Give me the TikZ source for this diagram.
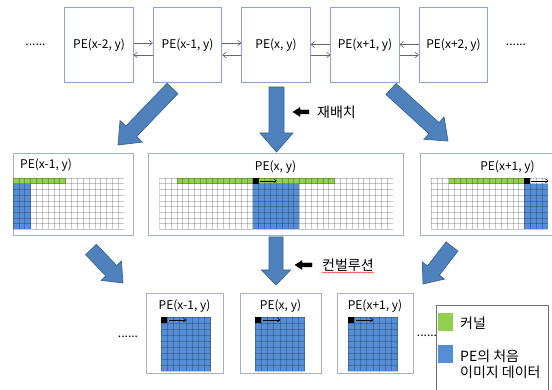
\documentclass[tikz,border=0pt]{standalone}
\usepackage{fontspec}
\setmainfont{Noto Sans CJK KR}
\usetikzlibrary{calc,arrows.meta,shadows,decorations.pathmorphing}

\definecolor{kgreen}{HTML}{92D050}
\definecolor{kblue}{HTML}{558ED5}
\definecolor{arrowblue}{HTML}{4F81BD}
\definecolor{arrowedge}{HTML}{3A6595}
\definecolor{topedge}{HTML}{8EA4C8}
\definecolor{boxedge}{HTML}{A7B0BE}

\tikzset{
  pebox/.style={draw=topedge, line width=0.8pt, minimum width=68.5pt,
    minimum height=75pt, inner sep=0pt, font=\fontsize{12}{14}\selectfont},
  link/.style={draw=black!60, line width=0.6pt,
    -{Straight Barb[length=3.5pt,width=6pt]}},
  layerbox/.style={draw=boxedge, line width=0.8pt, fill=white, inner sep=0pt,
    drop shadow={shadow xshift=1pt, shadow yshift=-1pt, opacity=0.3}},
  boxtitle/.style={inner sep=0pt, font=\fontsize{12}{14}\selectfont},
  gridline/.style={draw=black, draw opacity=0.22, line width=0.5pt},
  bigarrow/.style={fill=arrowblue, draw=arrowedge, line width=0.7pt, line join=miter},
  tagarrow/.style={fill=black, draw=black, line width=0.3pt},
  tag/.style={inner sep=0pt, anchor=west, font=\fontsize{14}{16}\selectfont},
  dots/.style={inner sep=0pt, font=\fontsize{12}{14}\selectfont},
  scanarrow/.style={draw=black, line width=0.5pt, -{Straight Barb[length=2.5pt,width=4pt]}},
  swatch/.style={inner sep=0pt, minimum width=15pt, minimum height=18pt},
}

% block arrow: tail, tip, half shaft width, half head width, head length, style
\newcommand\blockarrow[6]{%
  \path ($(#2)!#5!(#1)$) coordinate (ba-base);
  \draw[#6] ($(#1)!#3!90:(#2)$) -- ($(ba-base)!#3!90:(#2)$)
    -- ($(ba-base)!#4!90:(#2)$) -- (#2) -- ($(ba-base)!#4!-90:(#2)$)
    -- ($(ba-base)!#3!-90:(#2)$) -- ($(#1)!#3!-90:(#2)$) -- cycle;}

% wide grid of the rearranged layer: x0, columns, pixel column, kernel from, kernel to
\def\cw{5.84}
\def\ch{5.7}
\newcommand\layergrid[5]{%
  \begin{scope}
    \clip (#1,178) rectangle ({#1+#2*\cw},{178+9*\ch});
    \fill[kgreen] ({#1+#4*\cw},178) rectangle ({#1+(#5+1)*\cw},{178+\ch});
    \fill[kblue] ({#1+#3*\cw},{178+\ch}) rectangle ({#1+(#3+8)*\cw},{178+9*\ch});
    \foreach \i in {0,...,#2} \draw[gridline] ({#1+\i*\cw},178) -- ++(0,{9*\ch});
    \foreach \j in {0,...,9} \draw[gridline] (#1,{178+\j*\ch}) -- ++({#2*\cw},0);
    \fill[black] ({#1+#3*\cw},178) rectangle ++(\cw,\ch);
    \draw[scanarrow] ({#1+(#3+1)*\cw+1},{178+\ch/2}) -- ++(17,0);
  \end{scope}}

% 8 x 9 image tile of one processing element: x0
\def\bw{6.2}
\def\bh{6}
\newcommand\imagegrid[1]{%
  \fill[kblue] (#1,317) rectangle ({#1+8*\bw},{317+9*\bh});
  \foreach \i in {0,...,8} \draw[gridline] ({#1+\i*\bw},317) -- ++(0,{9*\bh});
  \foreach \j in {0,...,9} \draw[gridline] (#1,{317+\j*\bh}) -- ++({8*\bw},0);
  \fill[black] (#1,317) rectangle ++(\bw,\bh);
  \draw[scanarrow] ({#1+\bw+2},320) -- ++(17,0);}

\begin{document}
\begin{tikzpicture}[x=1pt,y=-1pt]
\useasboundingbox[fill=white] (0,0) rectangle (552,390);

% ---- processing elements in a row ----
\node[dots] (top-dl) at (35.5,45) {......};
\node[pebox] (pe-2) at (99,44.5)  {PE(x-2, y)};
\node[pebox] (pe-1) at (187.5,44.5) {PE(x-1, y)};
\node[pebox] (pe0)  at (276,44.5) {PE(x, y)};
\node[pebox] (pe1)  at (365,44.5) {PE(x+1, y)};
\node[pebox] (pe2)  at (453.5,44.5) {PE(x+2, y)};
\node[dots] (top-dr) at (516,45) {......};

\draw[link] ($(pe-2.east)+(0,-1.5)$) -- ($(pe-1.west)+(0,-1.5)$);
\draw[link] ($(pe-1.west)+(0,10.5)$) -- ($(pe-2.east)+(0,10.5)$);
\draw[link] ($(pe-1.east)+(0,-1.5)$) -- ($(pe0.west)+(0,-1.5)$);
\draw[link] ($(pe0.west)+(0,10.5)$) -- ($(pe-1.east)+(0,10.5)$);
\draw[link] ($(pe1.west)+(0,0)$) -- ($(pe0.east)+(0,0)$);
\draw[link] ($(pe0.east)+(0,10.5)$) -- ($(pe1.west)+(0,10.5)$);
\draw[link] ($(pe2.west)+(0,0)$) -- ($(pe1.east)+(0,0)$);
\draw[link] ($(pe1.east)+(0,10.5)$) -- ($(pe2.west)+(0,10.5)$);

% ---- rearranged layer ----
\node[layerbox, minimum width=120pt, minimum height=82pt] (mid-l) at (73,194) {};
\node[layerbox, minimum width=255pt, minimum height=82pt] (mid-c) at (275.5,194) {};
\node[layerbox, minimum width=175pt, minimum height=82pt] (mid-r) at (507.5,194) {};
\node[boxtitle] (mid-l-t) at (46,165) {PE(x-1, y)};
\node[boxtitle] (mid-c-t) at (275.5,167) {PE(x, y)};
\node[boxtitle] (mid-r-t) at (507.5,167) {PE(x+1, y)};
\layergrid{13}{19}{-5}{-18}{8}
\layergrid{159.3}{40}{16}{3}{29}
\layergrid{431}{20}{16}{3}{15}

% ---- rearrangement arrows ----
\coordinate (a1-t) at (172.5,88.5); \coordinate (a1-h) at (118,145);
\coordinate (a2-t) at (276.5,87);   \coordinate (a2-h) at (276.5,152);
\coordinate (a3-t) at (391,89);     \coordinate (a3-h) at (448,141);
\blockarrow{a1-t}{a1-h}{7.5pt}{15.5pt}{19pt}{bigarrow}
\blockarrow{a2-t}{a2-h}{7.5pt}{16.5pt}{19pt}{bigarrow}
\blockarrow{a3-t}{a3-h}{7.5pt}{15pt}{19pt}{bigarrow}

\coordinate (t1-t) at (309,112); \coordinate (t1-h) at (293,112);
\blockarrow{t1-t}{t1-h}{2pt}{4.5pt}{7pt}{tagarrow}
\node[tag] (tag-1) at (317,112) {재배치};

% ---- convolution arrows ----
\coordinate (b1-t) at (91,249.5);  \coordinate (b1-h) at (123,283);
\coordinate (b2-t) at (276,237);   \coordinate (b2-h) at (276,285);
\coordinate (b3-t) at (452,246.5); \coordinate (b3-h) at (423,284);
\blockarrow{b1-t}{b1-h}{7.5pt}{14pt}{17pt}{bigarrow}
\blockarrow{b2-t}{b2-h}{7pt}{14.5pt}{15pt}{bigarrow}
\blockarrow{b3-t}{b3-h}{7.5pt}{14pt}{17pt}{bigarrow}

\coordinate (t2-t) at (312,265); \coordinate (t2-h) at (295,265);
\blockarrow{t2-t}{t2-h}{2pt}{4.5pt}{7pt}{tagarrow}
\node[tag] (tag-2) at (322,265) {컨벌루션};
\draw[red, line width=0.4pt, decorate,
  decoration={snake, amplitude=0.6pt, segment length=2.5pt}]
  ($(tag-2.south west)+(0,1)$) -- ($(tag-2.south east)+(0,1)$);

% ---- processing elements after convolution ----
\node[dots] (bot-dl) at (128,337) {......};
\node[layerbox, minimum width=77pt, minimum height=80pt] (out-l) at (184.5,333) {};
\node[layerbox, minimum width=81pt, minimum height=80pt] (out-c) at (280.5,333) {};
\node[layerbox, minimum width=76pt, minimum height=80pt] (out-r) at (375,333) {};
\node[boxtitle] (out-l-t) at (184.5,306) {PE(x-1, y)};
\node[boxtitle] (out-c-t) at (280.5,306) {PE(x, y)};
\node[boxtitle] (out-r-t) at (375,306) {PE(x+1, y)};
\imagegrid{161}
\imagegrid{255}
\imagegrid{348}
\node[dots] (bot-dr) at (427,336) {......};

% ---- legend ----
\node[draw=black!55, line width=0.8pt, fill=white, minimum width=112pt,
  minimum height=92pt, anchor=north west, inner sep=0pt] (legend) at (436,305) {};
\node[swatch, fill=kgreen] (sw-k) at (445.5,322.5) {};
\node[swatch, fill=kblue]  (sw-i) at (445.5,354) {};
\node[tag] (lg-k) at (460,323) {커널};
\node[tag, align=left, font=\fontsize{14}{16}\selectfont] (lg-i) at (460,364)
  {PE의 처음\\이미지 데이터};
\end{tikzpicture}
\end{document}
